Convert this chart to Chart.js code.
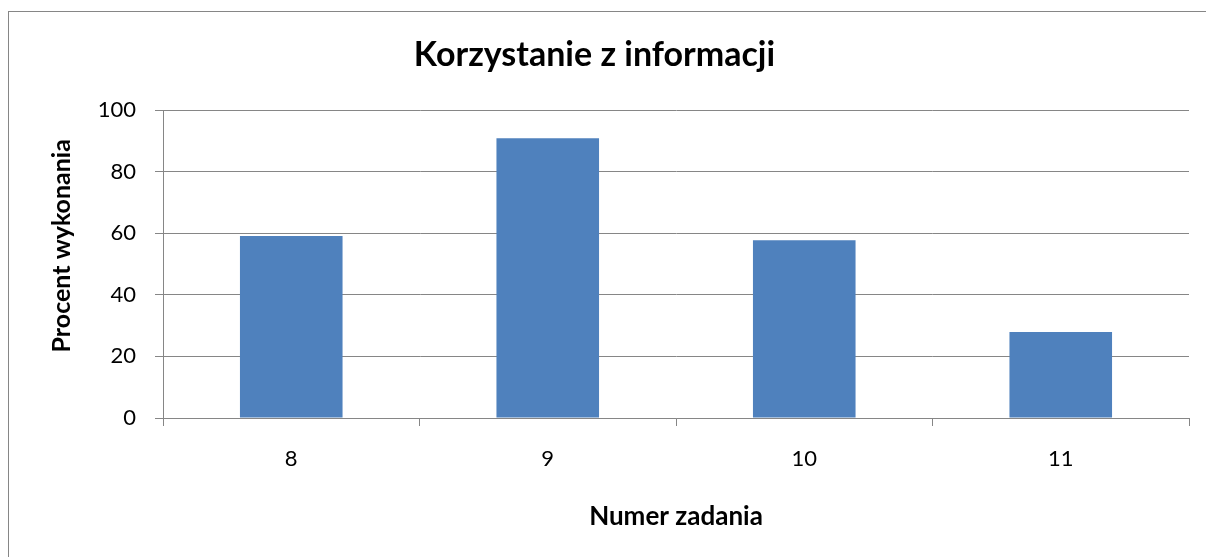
<!DOCTYPE html>
<html>
<head>
<meta charset="utf-8">
<script src="https://cdn.jsdelivr.net/npm/chart.js@4"></script>
<style>
    html, body { margin: 0; padding: 0; background: #ffffff; overflow: hidden; }
    #wrap { position: relative; width: 1206px; height: 557px; }
    #frame {
        position: absolute; left: 8px; top: 11px; width: 1300px; height: 700px;
        border-left: 1.5px solid #868686; border-top: 1.5px solid #868686;
    }
    #chart { position: absolute; left: 0; top: 0; }
</style>
</head>
<body>
<div id="wrap">
    <div id="frame"></div>
    <canvas id="chart" width="1206" height="557"></canvas>
</div>
<script>
// Values
const zadania = ['8', '9', '10', '11'];
const procentWykonania = [59.1, 90.8, 57.7, 27.9];
const yTicks = [0, 20, 40, 60, 80, 100];

const FONT = "Lato, 'Open Sans', sans-serif";
const GRID = '#868686';

Chart.defaults.font.family = FONT;
Chart.defaults.color = '#000000';

const ctx = document.getElementById('chart');
new Chart(ctx, {
    type: 'bar',
    data: {
        labels: zadania,
        datasets: [{
            data: procentWykonania,
            backgroundColor: '#4F81BD',
            borderWidth: 0,
            categoryPercentage: 1.0,
            barPercentage: 0.4
        }]
    },
    options: {
        responsive: false,
        animation: false,
        layout: { padding: { left: 0, right: 17, top: 0, bottom: 0 } },
        plugins: {
            legend: { display: false },
            tooltip: { enabled: false },
            title: {
                display: true,
                text: 'Korzystanie z informacji',
                color: '#000000',
                font: { size: 34, weight: 'bold' },
                padding: { top: 35, bottom: 34.2 }
            }
        },
        scales: {
            x: {
                grid: {
                    offset: true,
                    drawOnChartArea: false,
                    drawTicks: true,
                    tickLength: 8,
                    color: GRID
                },
                border: { color: GRID, width: 1 },
                ticks: { font: { size: 22 }, padding: 20, color: '#000000' },
                title: {
                    display: true,
                    text: 'Numer zadania',
                    font: { size: 26, weight: 'bold' },
                    padding: { top: 0, bottom: 24.4 }
                },
                afterFit: function (scale) { scale.height = 139; }
            },
            y: {
                min: 0,
                max: 100,
                afterBuildTicks: function (scale) {
                    scale.ticks = yTicks.map(v => ({ value: v }));
                },
                grid: { color: GRID, tickLength: 8, lineWidth: 1 },
                border: { color: GRID, width: 1 },
                ticks: { font: { size: 22 }, padding: 19, color: '#000000' },
                title: {
                    display: true,
                    // leading spaces lift the rotated label like in the original
                    text: '      Procent wykonania',
                    font: { size: 25, weight: 'bold' },
                    padding: { top: 47, bottom: 0 }
                },
                afterFit: function (scale) { scale.width = 163; }
            }
        }
    }
});
</script>
</body>
</html>
